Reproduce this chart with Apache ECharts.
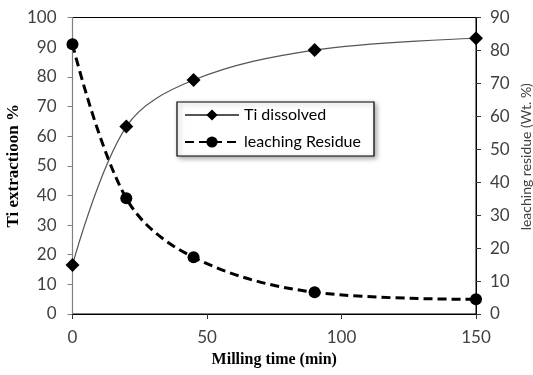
<!DOCTYPE html>
<html>
<head>
<meta charset="utf-8">
<script src="https://cdn.jsdelivr.net/npm/echarts@6/dist/echarts.min.js"></script>
<style>
  html, body { margin: 0; padding: 0; background: #fff; }
  #chart { width: 533px; height: 375px; }
</style>
</head>
<body>
<div id="chart"></div>
<script>
// Milling time (min)
const millingTime = [0, 20, 45, 90, 150];
// Ti extraction % (left axis)
const tiDissolved = [16.5, 63.2, 78.9, 89.0, 93.0];
// Leaching residue, Wt. % (right axis)
const leachingResidue = [81.9, 35.1, 17.2, 6.6, 4.45];

const leftTicks = { min: 0, max: 100, interval: 10 };
const rightTicks = { min: 0, max: 90, interval: 10 };
const xTicks = { min: 0, max: 150, interval: 50 };

const tickFont = { fontFamily: 'Lato', fontSize: 17, color: '#404040' };

const chart = echarts.init(document.getElementById('chart'), null, { renderer: 'canvas' });

chart.setOption({
  animation: false,
  backgroundColor: '#fff',
  grid: {
    left: 72.5, right: 57, top: 17.5, bottom: 61,
    containLabel: false,
    outerBoundsMode: 'none',
    show: true, borderColor: '#000', borderWidth: 1, backgroundColor: 'transparent'
  },
  legend: {
    left: 177, top: 102,
    orient: 'vertical',
    itemGap: 11,
    itemWidth: 54, itemHeight: 14,
    padding: [5, 13, 6, 7],
    backgroundColor: '#fff',
    borderColor: '#000', borderWidth: 1.2,
    shadowColor: 'rgba(0,0,0,0.35)', shadowBlur: 5, shadowOffsetX: 2, shadowOffsetY: 2,
    textStyle: { fontFamily: 'Lato', fontSize: 16, color: '#000', padding: [0, 0, 0, 0] },
    data: ['Ti dissolved', 'leaching Residue']
  },
  xAxis: {
    type: 'value',
    min: xTicks.min, max: xTicks.max, interval: xTicks.interval,
    name: 'Milling time (min)',
    nameLocation: 'middle', nameGap: 38, nameMoveOverlap: false,
    nameTextStyle: { fontFamily: 'Liberation Serif', fontWeight: 'bold', fontSize: 16, color: '#000' },
    axisLine: { lineStyle: { color: '#000', width: 1 } },
    axisTick: { show: true, inside: false, length: 5, lineStyle: { color: '#333' } },
    axisLabel: Object.assign({ margin: 15 }, tickFont),
    splitLine: { show: false }
  },
  yAxis: [
    {
      type: 'value', position: 'left',
      min: leftTicks.min, max: leftTicks.max, interval: leftTicks.interval,
      name: 'Ti extractioon %',
      nameLocation: 'middle', nameGap: 50, nameRotate: 90, nameMoveOverlap: false,
      nameTextStyle: { fontFamily: 'Liberation Serif', fontWeight: 'bold', fontSize: 17, color: '#000' },
      axisLine: { show: true, lineStyle: { color: '#808080', width: 1.2 } },
      axisTick: { show: true, inside: false, length: 5, lineStyle: { color: '#808080' } },
      axisLabel: Object.assign({ margin: 16 }, tickFont),
      splitLine: { show: false }
    },
    {
      type: 'value', position: 'right',
      min: rightTicks.min, max: rightTicks.max, interval: rightTicks.interval,
      name: 'leaching residue (Wt. %)',
      nameLocation: 'middle', nameGap: 43, nameRotate: 90, nameMoveOverlap: false,
      nameTextStyle: { fontFamily: 'Lato', fontSize: 14, color: '#404040', padding: [0, 0, 0, 18] },
      axisLine: { show: true, lineStyle: { color: '#000', width: 1 } },
      axisTick: { show: true, inside: false, length: 5, lineStyle: { color: '#333' } },
      axisLabel: Object.assign({ margin: 14 }, tickFont),
      splitLine: { show: false }
    }
  ],
  series: [
    {
      name: 'Ti dissolved',
      type: 'line',
      yAxisIndex: 0,
      data: millingTime.map((t, i) => [t, tiDissolved[i]]),
      smooth: 0.35,
      symbol: 'diamond', symbolSize: 14,
      showAllSymbol: true,
      lineStyle: { color: '#555', width: 1.2 },
      itemStyle: { color: '#000', borderWidth: 0 },
      z: 3
    },
    {
      name: 'leaching Residue',
      type: 'line',
      yAxisIndex: 1,
      data: millingTime.map((t, i) => [t, leachingResidue[i]]),
      smooth: 0.35,
      symbol: 'circle', symbolSize: 12,
      lineStyle: { color: '#000', width: 3, type: [9, 5] },
      itemStyle: { color: '#000', borderWidth: 0 },
      z: 2
    }
  ]
});
</script>
</body>
</html>
